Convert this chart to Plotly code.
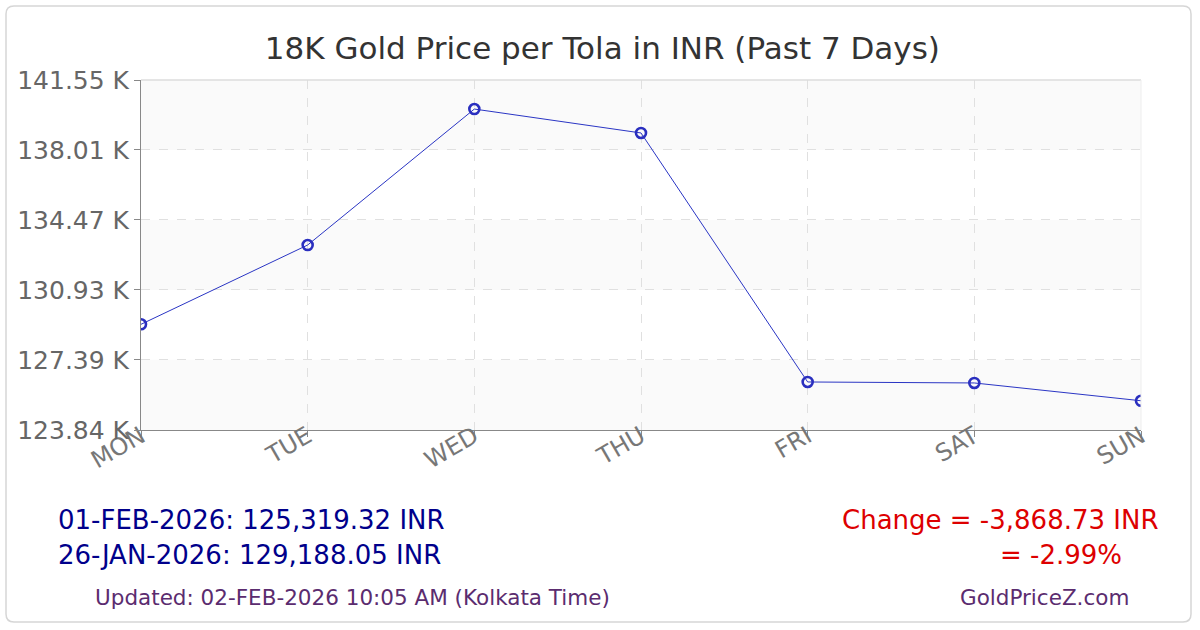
import plotly.graph_objects as go

days = ["MON", "TUE", "WED", "THU", "FRI", "SAT", "SUN"]
prices = [129188.05, 133200, 140080, 138870, 126270, 126220, 125319.32]
ytick_vals = [123840, 127390, 130930, 134470, 138010, 141550]
ytick_text = ["123.84 K", "127.39 K", "130.93 K", "134.47 K", "138.01 K", "141.55 K"]

FONT = "DejaVu Sans"

fig = go.Figure()

# alternating bands
for i in range(0, len(ytick_vals) - 1, 2):
    fig.add_shape(type="rect", xref="paper", yref="y", x0=0, x1=1,
                  y0=ytick_vals[i], y1=ytick_vals[i + 1],
                  fillcolor="#fafafa", line_width=0, layer="below")
# top/right light border of plot
fig.add_shape(type="line", xref="paper", yref="paper", x0=0, x1=1, y0=1, y1=1,
              line=dict(color="#dddddd", width=1.5))
fig.add_shape(type="line", xref="paper", yref="paper", x0=1, x1=1, y0=0, y1=1,
              line=dict(color="#eeeeee", width=1))

fig.add_trace(go.Scatter(
    x=days, y=prices, mode="lines+markers",
    line=dict(color="#2a35c4", width=1),
    marker=dict(symbol="circle-open", size=10, color="#2a2fbf", line=dict(width=2.6)),
    hoverinfo="skip",
))

fig.update_layout(
    width=1200, height=630,
    margin=dict(l=141, r=59, t=80, b=200),
    paper_bgcolor="white", plot_bgcolor="white",
    showlegend=False,
    title=dict(text="18K Gold Price per Tola in INR (Past 7 Days)",
               x=0.502, xanchor="center", y=0.924, yanchor="middle",
               font=dict(family=FONT, size=31, color="#333333")),
    font=dict(family=FONT),
    xaxis=dict(range=[0, 6], tickangle=-30, showgrid=True, gridcolor="#e0e0e0",
               griddash="dash", gridwidth=1, showline=True, linecolor="#888888",
               linewidth=1, ticks="outside", ticklen=6, tickcolor="#888888",
               ticklabelstandoff=-24,
               tickfont=dict(family=FONT, size=24, color="#777777"),
               zeroline=False),
    yaxis=dict(range=[ytick_vals[0], ytick_vals[-1]], tickvals=ytick_vals,
               ticktext=ytick_text, showgrid=True, gridcolor="#e0e0e0",
               griddash="dash", gridwidth=1, showline=True, linecolor="#888888",
               linewidth=1, ticks="outside", ticklen=6, tickcolor="#888888",
               tickfont=dict(family=FONT, size=25, color="#666666"),
               zeroline=False),
)

W, H = 1000.0, 350.0
def px(x, y):
    return ((x - 141) / W, (430 - y) / H)
r = 8
x0, y0, x1, y1 = 6, 6, 1191, 622
def p(x, y):
    a, b = px(x, y)
    return f"{a},{b}"
path = (
    f"M {p(x0+r,y0)} L {p(x1-r,y0)} Q {p(x1,y0)} {p(x1,y0+r)} "
    f"L {p(x1,y1-r)} Q {p(x1,y1)} {p(x1-r,y1)} "
    f"L {p(x0+r,y1)} Q {p(x0,y1)} {p(x0,y1-r)} "
    f"L {p(x0,y0+r)} Q {p(x0,y0)} {p(x0+r,y0)} Z"
)
fig.add_shape(type="path", xref="paper", yref="paper", path=path,
              line=dict(color="#d6d6d6", width=1.5), fillcolor="rgba(0,0,0,0)")

first_label = f"01-FEB-2026: {prices[-1]:,.2f} INR"
last_label = f"26-JAN-2026: {prices[0]:,.2f} INR"
change = prices[-1] - prices[0]
pct = change / prices[0] * 100

def ann(text, x, y, color, size, xanchor):
    fx, fy = px(x, y)
    fig.add_annotation(text=text, xref="paper", yref="paper", x=fx, y=fy,
                       xanchor=xanchor, yanchor="middle", showarrow=False,
                       font=dict(family=FONT, size=size, color=color))

ann(first_label, 56, 520, "#00008b", 26, "left")
ann(last_label, 56, 555, "#00008b", 26, "left")
ann(f"Change = {change:,.2f} INR", 1160, 520, "#dd0000", 26, "right")
ann(f"= {pct:.2f}%", 1124, 555, "#dd0000", 26, "right")
ann("Updated: 02-FEB-2026 10:05 AM (Kolkata Time)", 93, 597, "#5b2c6f", 21.5, "left")
ann("GoldPriceZ.com", 1131, 597, "#5b2c6f", 21.5, "right")

fig.write_html("out.html", config={"displayModeBar": False},
               post_script="document.body.style.margin='0';document.body.style.overflow='hidden';")
